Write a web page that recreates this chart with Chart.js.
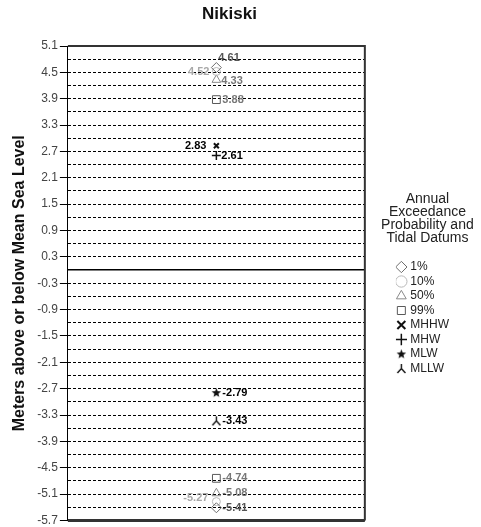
<!DOCTYPE html>
<html>
<head>
<meta charset="utf-8">
<title>Nikiski</title>
<script src="https://cdn.jsdelivr.net/npm/chart.js@4/dist/chart.umd.min.js"></script>
<style>
  html, body { margin: 0; padding: 0; background: #fff; }
</style>
</head>
<body>
<canvas id="myChart" width="481" height="527"></canvas>
<script>
// Datos del gráfico
const category = 'Nikiski';
const seriesNames = ['1%', '10%', '50%', '99%', 'MHHW', 'MHW', 'MLW', 'MLLW'];
const upperValues = [4.61, 4.52, 4.33, 3.88, 2.83, 2.61, null, null];
const lowerValues = [-5.41, -5.27, -5.08, -4.74, null, null, -2.79, -3.43];
const yTickLabels = ['5.1', '4.5', '3.9', '3.3', '2.7', '2.1', '1.5', '0.9', '0.3',
  '-0.3', '-0.9', '-1.5', '-2.1', '-2.7', '-3.3', '-3.9', '-4.5', '-5.1', '-5.7'];
const legendTitle = ['Annual', 'Exceedance', 'Probability and', 'Tidal Datums'];
const yMin = -5.7;
const yMax = 5.1;
const gridStep = 0.3;

Chart.defaults.font.family = '"Liberation Sans", Arial, sans-serif';

// Símbolos que Chart.js no trae
function makeSymbol(draw) {
    const c = document.createElement('canvas');
    c.width = 11;
    c.height = 11;
    draw(c.getContext('2d'));
    return c;
}

const starSymbol = makeSymbol(g => {
    g.fillStyle = '#111';
    g.beginPath();
    for (let i = 0; i < 10; i++) {
        const r = i % 2 === 0 ? 5 : 2.1;
        const a = -Math.PI / 2 + i * Math.PI / 5;
        g.lineTo(5.5 + r * Math.cos(a), 5.8 + r * Math.sin(a));
    }
    g.closePath();
    g.fill();
});

const mllwSymbol = makeSymbol(g => {
    g.strokeStyle = '#111';
    g.lineWidth = 1.4;
    g.beginPath();
    g.moveTo(5.5, 1);
    g.lineTo(5.5, 5.5);
    g.moveTo(1.5, 10);
    g.lineTo(5.5, 5.5);
    g.lineTo(9.5, 10);
    g.stroke();
});

// Estilo de cada serie
const seriesStyles = [
    { pointStyle: 'rectRot', radius: 5, color: '#6e6e6e', width: 1, labelColor: '#555555' },
    { pointStyle: 'circle', radius: 4, color: '#b8b8b8', width: 1, labelColor: '#a8a8a8' },
    { pointStyle: 'triangle', radius: 5, color: '#8a8a8a', width: 1, labelColor: '#777777' },
    { pointStyle: 'rect', radius: 5.5, color: '#5a5a5a', width: 1, labelColor: '#777777' },
    { pointStyle: 'crossRot', radius: 3.5, color: '#111111', width: 2, labelColor: '#000000' },
    { pointStyle: 'cross', radius: 4.5, color: '#111111', width: 1.5, labelColor: '#000000' },
    { pointStyle: starSymbol, radius: 5, color: '#111111', width: 1, labelColor: '#000000' },
    { pointStyle: mllwSymbol, radius: 5, color: '#111111', width: 1, labelColor: '#000000' }
];

// Posición de las etiquetas: [dx, dy, alineación]
const labelPlacement = [
    { upper: [2, -10, 'left'], lower: [6, 0, 'left'] },
    { upper: [-7, 0, 'right'], lower: [-8, -4, 'right'] },
    { upper: [5, 1, 'left'], lower: [6, 0, 'left'] },
    { upper: [6, 0, 'left'], lower: [6, 0, 'left'] },
    { upper: [-10, 0, 'right'], lower: [6, 0, 'left'] },
    { upper: [5, 1, 'left'], lower: [6, 0, 'left'] },
    { upper: [6, 0, 'left'], lower: [6, 0, 'left'] },
    { upper: [6, 0, 'left'], lower: [6, 0, 'left'] }
];

const datasets = seriesNames.map((name, i) => {
    const st = seriesStyles[i];
    const points = [];
    if (upperValues[i] !== null) points.push({ x: category, y: upperValues[i], pos: 'upper' });
    if (lowerValues[i] !== null) points.push({ x: category, y: lowerValues[i], pos: 'lower' });
    return {
        label: name,
        data: points,
        showLine: false,
        pointStyle: st.pointStyle,
        pointRadius: st.radius,
        pointBorderColor: st.color,
        pointBackgroundColor: 'rgba(0,0,0,0)',
        pointBorderWidth: st.width,
        borderColor: st.color,
        backgroundColor: 'rgba(0,0,0,0)',
        labelColor: st.labelColor,
        labelPlacement: labelPlacement[i]
    };
});

// Etiquetas de valores junto a cada punto
const pointLabels = {
    id: 'pointLabels',
    afterDatasetsDraw(chart) {
        const ctx = chart.ctx;
        ctx.save();
        ctx.font = 'bold 11px "Liberation Sans", Arial, sans-serif';
        ctx.textBaseline = 'middle';
        chart.data.datasets.forEach((ds, i) => {
            chart.getDatasetMeta(i).data.forEach((pt, j) => {
                const raw = ds.data[j];
                const [dx, dy, align] = ds.labelPlacement[raw.pos];
                ctx.fillStyle = ds.labelColor;
                ctx.textAlign = align;
                ctx.fillText(raw.y.toFixed(2), pt.x + dx, pt.y + dy);
            });
        });
        ctx.restore();
    }
};

// Marco del área del gráfico y título de la leyenda (varias líneas)
const frame = {
    id: 'frame',
    afterDraw(chart) {
        const { ctx, chartArea: a, legend } = chart;
        ctx.save();
        ctx.strokeStyle = '#333';
        ctx.lineWidth = 2;
        ctx.beginPath();
        ctx.moveTo(a.left, a.top);
        ctx.lineTo(a.right, a.top);
        ctx.lineTo(a.right, a.bottom);
        ctx.stroke();
        ctx.lineWidth = 3;
        ctx.beginPath();
        ctx.moveTo(a.left, a.bottom);
        ctx.lineTo(a.right, a.bottom);
        ctx.stroke();

        if (legend && legend.legendHitBoxes && legend.legendHitBoxes.length) {
            const cx = legend.left + legend.width / 2;
            const top = legend.legendHitBoxes[0].top;
            ctx.fillStyle = '#222';
            ctx.font = '14px "Liberation Sans", Arial, sans-serif';
            ctx.textAlign = 'center';
            ctx.textBaseline = 'middle';
            legendTitle.forEach((line, k) => {
                ctx.fillText(line, cx, top - 62 + k * 13);
            });
        }
        ctx.restore();
    }
};

const isZero = v => Math.abs(v) < 1e-9;
const isLabelled = v => yTickLabels.includes(v.toFixed(1));

new Chart(document.getElementById('myChart').getContext('2d'), {
    type: 'line',
    data: { labels: [category], datasets: datasets },
    options: {
        responsive: false,
        animation: false,
        events: [],
        layout: { padding: { left: 0, right: 22, top: 0, bottom: 0 } },
        scales: {
            x: { type: 'category', offset: true, display: false },
            y: {
                min: yMin,
                max: yMax,
                afterBuildTicks(scale) {
                    const n = Math.round((yMax - yMin) / gridStep);
                    const ticks = [];
                    for (let i = 0; i <= n; i++) {
                        ticks.push({ value: Math.round((yMin + i * gridStep) * 10) / 10 });
                    }
                    scale.ticks = ticks;
                },
                afterFit(scale) { scale.paddingBottom = 5; },
                ticks: {
                    autoSkip: false,
                    color: '#444',
                    padding: 2,
                    font: { size: 12 },
                    callback: v => isLabelled(v) ? v.toFixed(1) : ''
                },
                grid: {
                    color: '#000',
                    lineWidth: c => (c.tick && isZero(c.tick.value)) ? 1.5 : 1,
                    tickLength: 8,
                    tickColor: c => (c.tick && isLabelled(c.tick.value)) ? '#000' : 'rgba(0,0,0,0)'
                },
                border: {
                    display: true,
                    color: '#000',
                    width: 1,
                    dash: c => (c.tick && isZero(c.tick.value)) ? [] : [3, 2]
                },
                title: {
                    display: true,
                    text: 'Meters above or below Mean Sea Level',
                    color: '#111',
                    font: { size: 16, weight: 'bold' },
                    padding: { top: 10, bottom: 6 }
                }
            },
            y2: {
                position: 'right',
                display: true,
                grid: { display: false },
                ticks: { display: false },
                border: { display: false },
                afterFit(scale) { scale.width = 31; }
            }
        },
        plugins: {
            title: {
                display: true,
                text: 'Nikiski',
                color: '#111',
                font: { size: 17, weight: 'bold' },
                padding: { top: 4, bottom: 21.6 }
            },
            legend: {
                position: 'right',
                align: 'center',
                fullSize: false,
                labels: {
                    usePointStyle: true,
                    boxWidth: 6,
                    boxHeight: 8,
                    padding: 2.5,
                    color: '#222',
                    font: { size: 12 }
                },
                title: {
                    display: true,
                    text: '',
                    font: { size: 13, lineHeight: 1 },
                    padding: { top: 1, bottom: 55 }
                }
            },
            tooltip: { enabled: false }
        }
    },
    plugins: [pointLabels, frame]
});
</script>
</body>
</html>
